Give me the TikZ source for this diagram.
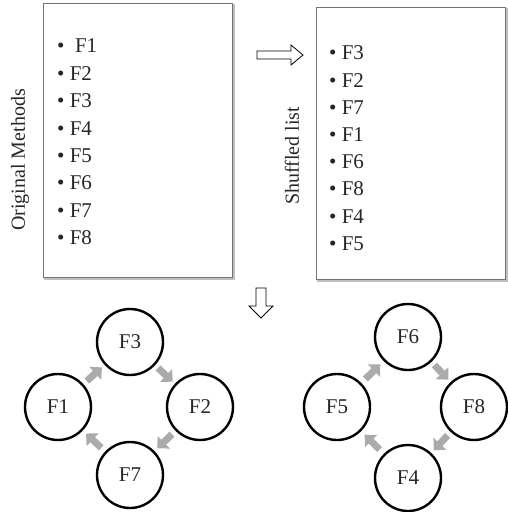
\documentclass[tikz,border=0pt]{standalone}
\usepackage{fontspec}
\setmainfont{Liberation Serif}
\usetikzlibrary{calc,arrows.meta}
\begin{document}
\begin{tikzpicture}[x=1pt,y=-1pt,
  every node/.style={font=\fontsize{21}{24}\selectfont, text=black!85},
  sidelabel/.style={rotate=90, font=\fontsize{20}{24}\selectfont},
  listbox/.style={draw=black!55, line width=0.9pt, fill=white},
  item/.style={anchor=west, inner sep=0pt},
  circ/.style={circle, draw=black, line width=2.4pt, minimum size=66pt, inner sep=0pt},
  garrow/.style={draw=black!33, line width=7pt, -{Triangle[width=17pt,length=9pt]}},
  outarrow/.style={draw=black, line width=0.8pt, fill=white, line join=miter}
]
\useasboundingbox (0,0) rectangle (507,512);
% boxes
\draw[black!25, line width=1.2pt] (45,5) rectangle (234,279);
\node[listbox, minimum width=189pt, minimum height=274pt, anchor=north west] (boxL) at (43,3) {};
\draw[black!25, line width=1.2pt] (318,9) rectangle (507,281);
\node[listbox, minimum width=189pt, minimum height=272pt, anchor=north west] (boxR) at (316,7) {};
% rotated labels
\node[sidelabel] (labL) at (20,160) {Original Methods};
\node[sidelabel] (labR) at (292,156) {Shuffled list};
% left list
\foreach \t [count=\i from 0] in {{\ F1},F2,F3,F4,F5,F6,F7,F8} {
  \node[item] (l\i) at (57,{46+27.4*\i}) {\textbullet\ \t};
}
% right list
\foreach \t [count=\i from 0] in {F3,F2,F7,F1,F6,F8,F4,F5} {
  \node[item] (r\i) at (329,{53+27.2*\i}) {\textbullet\ \t};
}
% outline arrows
\coordinate (ra) at (257,55);
\draw[outarrow] (ra) ++(0,-4) -- ++(34,0) -- ++(0,-6) -- (303,55) -- (291,65) -- ++(0,-6) -- ++(-34,0) -- cycle;
\coordinate (da) at (261,288);
\draw[outarrow] (da) ++(-5,0) -- ++(0,18) -- ++(-7,0) -- (261,318) -- (273,306) -- ++(-7,0) -- ++(0,-18) -- cycle;
% left cycle
\node[circ] (f3) at (130,342) {F3};
\node[circ] (f1) at (58,407) {F1};
\node[circ] (f2) at (200,407) {F2};
\node[circ] (f7) at (130,475) {F7};
% right cycle
\node[circ] (f6) at (408,337) {F6};
\node[circ] (f5) at (337,407) {F5};
\node[circ] (f8) at (474,407) {F8};
\node[circ] (f4) at (408,478) {F4};
% gray arrows
\foreach \a/\b in {f1/f3,f3/f2,f2/f7,f7/f1,f5/f6,f6/f8,f8/f4,f4/f5} {
  \draw[garrow] ($(\a)!0.40!(\b)$) -- ($(\a)!0.61!(\b)$);
}
\end{tikzpicture}
\end{document}
